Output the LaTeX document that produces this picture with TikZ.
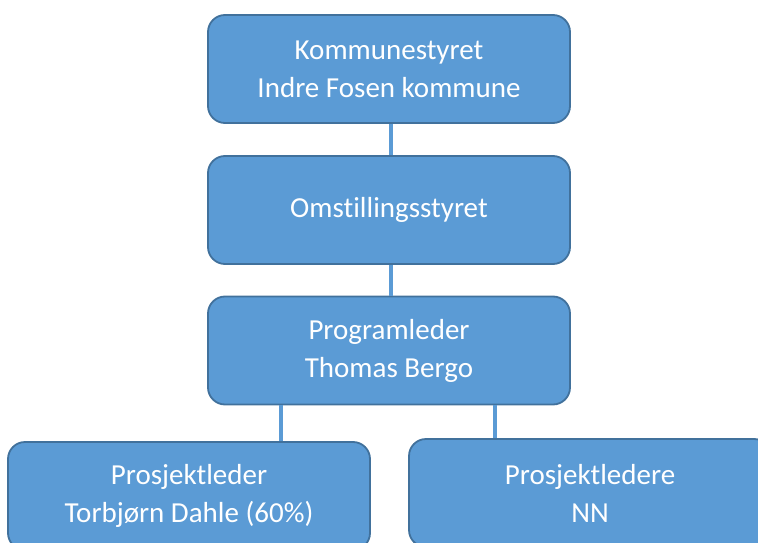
\documentclass[tikz,border=0pt]{standalone}
\usepackage{fontspec}
\setmainfont{Carlito}[Ligatures={NoCommon}]
\definecolor{boxfill}{HTML}{5B9BD5}
\definecolor{boxline}{HTML}{41719C}
\begin{document}
\begin{tikzpicture}[x=1pt,y=-1pt,
  orgbox/.style={draw=boxline, line width=1.8pt, fill=boxfill, rounded corners=17pt,
    minimum width=362pt, minimum height=108pt, align=center, text=white,
    font=\fontsize{29}{38}\selectfont, inner sep=0pt},
  link/.style={draw=boxfill, line width=4.5pt}]
\useasboundingbox (0,0) rectangle (758,543);
\clip (0,0) rectangle (758,543);
\coordinate (c1) at (391,0);
\coordinate (cl) at (281,0);
\coordinate (cr) at (495,0);
\node[orgbox] (b1) at (389,69) {Kommunestyret\\Indre Fosen kommune};
\node[orgbox] (b2) at (389,210) {Omstillingsstyret};
\node[orgbox] (b3) at (389,350.5) {Programleder\\Thomas Bergo};
\node[orgbox] (b4) at (189,496) {Prosjektleder\\Torbjørn Dahle (60\%)};
\node[orgbox] (b5) at (590,493) {Prosjektledere\\NN};
\draw[link] (b1.south -| c1) -- (b2.north -| c1);
\draw[link] (b2.south -| c1) -- (b3.north -| c1);
\draw[link] (b3.south -| cl) -- (b4.north -| cl);
\draw[link] (b3.south -| cr) -- (b5.north -| cr);
\end{tikzpicture}
\end{document}
